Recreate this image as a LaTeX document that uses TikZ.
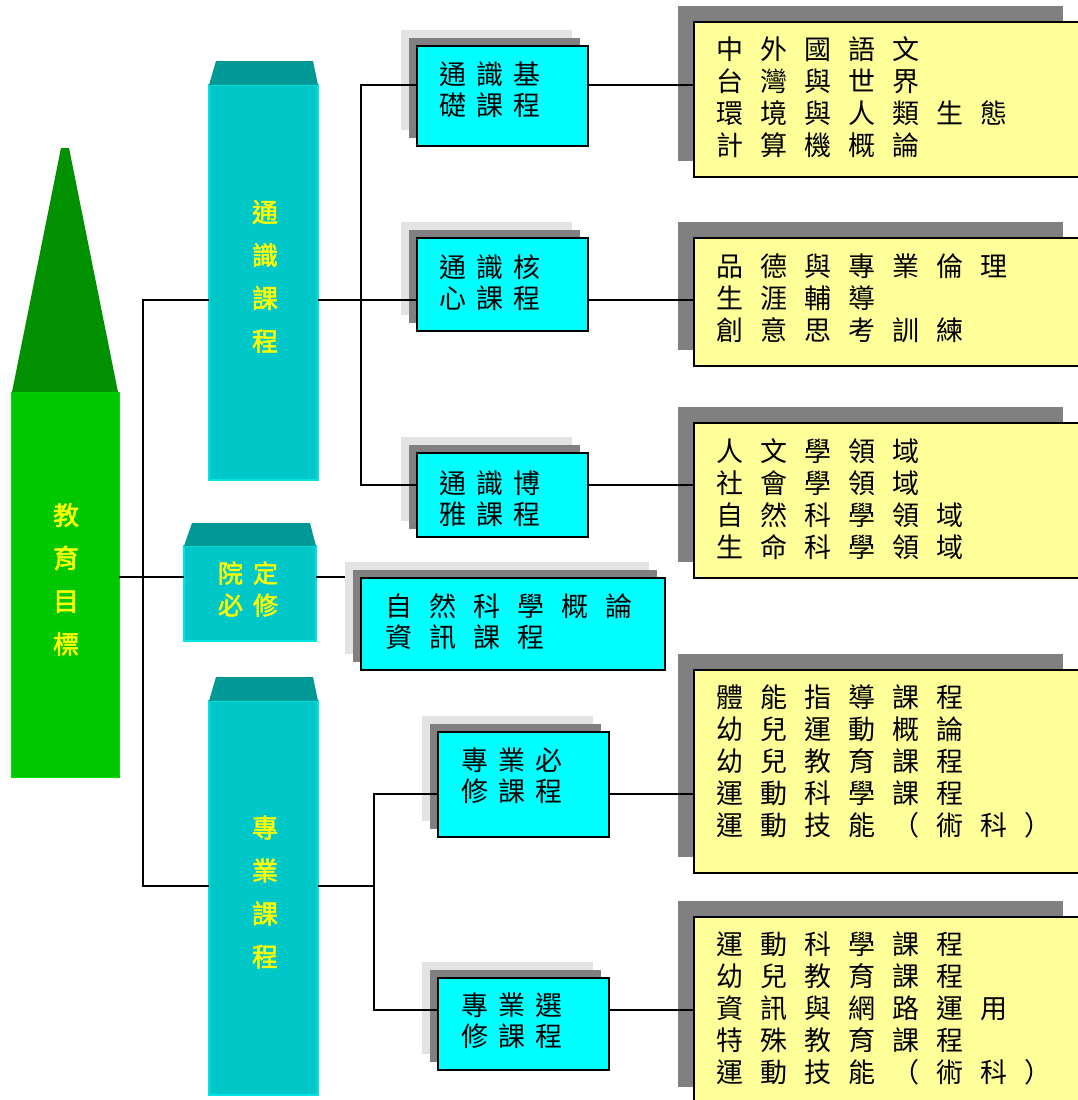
\documentclass[tikz,border=0pt]{standalone}
\usepackage{fontspec}
\newfontfamily\cjk{Noto Sans CJK TC}
\newfontfamily\cjkb[FakeBold=2]{Noto Sans CJK TC}
\usetikzlibrary{backgrounds}
\definecolor{dgreen}{RGB}{0,144,0}
\definecolor{lgreen}{RGB}{0,200,0}
\definecolor{lgreenedge}{RGB}{0,222,0}
\definecolor{tealtop}{RGB}{0,153,150}
\definecolor{tealcol}{RGB}{0,200,200}
\definecolor{tealedge}{RGB}{0,228,228}
\definecolor{cyanbox}{RGB}{0,255,255}
\definecolor{ybox}{RGB}{255,255,153}
\definecolor{shdark}{RGB}{128,128,128}
\definecolor{shlight}{RGB}{227,227,227}
\definecolor{ytext}{RGB}{255,255,0}
\makeatletter
\newcommand\sw[1]{\@tfor\@mych:=#1\do{\@mych\hspace{17pt}}}
\newcommand\sn[1]{\@tfor\@mych:=#1\do{\@mych\hspace{10pt}}}
\makeatother
\newcommand\shbox[3]{\fill[#1] ([shift={(#2,#2)}]#3.south west) rectangle ([shift={(#2,#2)}]#3.north east);}
\begin{document}
\begin{tikzpicture}[x=1pt,y=-1pt,
  conn/.style={line width=1.5pt,draw=black},
  cbox/.style={draw=black,line width=1.6pt,fill=cyanbox,inner sep=0pt,outer sep=0pt},
  ybx/.style={draw=black,line width=1.6pt,fill=ybox,minimum width=385pt,inner sep=0pt,outer sep=0pt},
  col/.style={fill=tealcol,draw=tealedge,line width=1.2pt,inner sep=0pt,outer sep=0pt},
  ytxt/.style={font=\cjk\fontsize{27}{32}\selectfont,align=left,anchor=west,inner sep=0pt},
  ctxt/.style={font=\cjk\fontsize{27}{31}\selectfont,align=left,anchor=west,inner sep=0pt},
  ltxt/.style={text=ytext,font=\cjkb\fontsize{26}{43}\selectfont,align=center,inner sep=0pt}
]
\useasboundingbox (0,0) rectangle (1077,1100);

% goal spire
\node[fill=lgreen,draw=lgreenedge,line width=1pt,inner sep=0pt,outer sep=0pt,minimum width=108pt,minimum height=385pt] (goal) at (65,584.5) {};
\fill[dgreen] (61,148) -- (69,148) -- (118,392) -- (12,392) -- cycle;
\node[ltxt] (goalt) at (66,579.5) {教\\育\\目\\標};

% columns
\node[col,minimum width=109pt,minimum height=395pt] (gen) at (263.5,282.5) {};
\fill[tealtop] (216,61) -- (313,61) -- (318,85) -- (209,85) -- cycle;
\node[ltxt] (gent) at (265,276.5) {通\\識\\課\\程};

\node[col,minimum width=132pt,minimum height=95pt] (yuan) at (250,593.5) {};
\fill[tealtop] (192,523) -- (310,523) -- (316,546) -- (184,546) -- cycle;
\node[ltxt,font=\cjkb\fontsize{25}{32}\selectfont] (yuant) at (248,589) {院\hspace{10pt}定\\必\hspace{10pt}修};

\node[col,minimum width=109pt,minimum height=394pt] (pro) at (263.5,898) {};
\fill[tealtop] (216,677) -- (313,677) -- (318,701) -- (209,701) -- cycle;
\node[ltxt] (prot) at (265,892) {專\\業\\課\\程};

% cyan boxes
\node[cbox,minimum width=171pt,minimum height=100pt] (c1) at (502.5,96) {};
\node[cbox,minimum width=171pt,minimum height=93pt] (c2) at (502.5,284.5) {};
\node[cbox,minimum width=171pt,minimum height=84pt] (c3) at (502.5,495) {};
\node[cbox,minimum width=304pt,minimum height=92pt] (c4) at (513,624) {};
\node[cbox,minimum width=171pt,minimum height=105pt] (c5) at (523.5,784.5) {};
\node[cbox,minimum width=171pt,minimum height=92pt] (c6) at (523.5,1024) {};

\node[ctxt] (c1t) at (439,90) {\sn{通識基}\\\sn{礎課程}};
\node[ctxt] (c2t) at (439,283) {\sn{通識核}\\\sn{心課程}};
\node[ctxt] (c3t) at (439,498.5) {\sn{通識博}\\\sn{雅課程}};
\node[ctxt] (c4t) at (385,621.5) {\sw{自然科學概論}\\\sw{資訊課程}};
\node[ctxt] (c5t) at (461,776) {\sn{專業必}\\\sn{修課程}};
\node[ctxt] (c6t) at (461,1021) {\sn{專業選}\\\sn{修課程}};

% yellow boxes
\node[ybx,minimum height=155pt] (y1) at (886.5,99.5) {};
\node[ybx,minimum height=128pt] (y2) at (886.5,302) {};
\node[ybx,minimum height=155pt] (y3) at (886.5,500.5) {};
\node[ybx,minimum height=203pt] (y4) at (886.5,771.5) {};
\node[ybx,minimum height=186pt] (y5) at (886.5,1010) {};

\node[ytxt] (y1t) at (716,97.5) {\sw{中外國語文}\\\sw{台灣與世界}\\\sw{環境與人類生態}\\\sw{計算機概論}};
\node[ytxt] (y2t) at (716,298) {\sw{品德與專業倫理}\\\sw{生涯輔導}\\\sw{創意思考訓練}};
\node[ytxt] (y3t) at (716,499) {\sw{人文學領域}\\\sw{社會學領域}\\\sw{自然科學領域}\\\sw{生命科學領域}};
\node[ytxt] (y4t) at (716,761.5) {\sw{體能指導課程}\\\sw{幼兒運動概論}\\\sw{幼兒教育課程}\\\sw{運動科學課程}\\\sw{運動技能（術科）}};
\node[ytxt] (y5t) at (716,1008.5) {\sw{運動科學課程}\\\sw{幼兒教育課程}\\\sw{資訊與網路運用}\\\sw{特殊教育課程}\\\sw{運動技能（術科）}};

% shadows
\begin{pgfonlayer}{background}
\foreach \b in {c1,c2,c3,c4,c5,c6}{\shbox{shlight}{-16}{\b}\shbox{shdark}{-8}{\b}}
\foreach \b in {y1,y2,y3,y4,y5}{\shbox{shdark}{-16}{\b}}
\end{pgfonlayer}

% level coordinates
\coordinate (L1) at (0,85);
\coordinate (L2) at (0,300);
\coordinate (L3) at (0,485);
\coordinate (L7) at (0,577);
\coordinate (L5) at (0,794);
\coordinate (L8) at (0,886);
\coordinate (L6) at (0,1010);
\coordinate (b0) at (143,0);
\coordinate (b1) at (361,0);
\coordinate (b2) at (374,0);
\coordinate (c4L) at ([xshift=-16pt]c4.west);

% connectors
\draw[conn] (gen.west |- L2) -| (b0 |- L8) -- (pro.west |- L8);
\draw[conn] (goal.east |- L7) -- (yuan.west |- L7);
\draw[conn] (yuan.east |- L7) -- (c4L |- L7);
\draw[conn] (c1.west |- L1) -| (b1 |- L3) -- (c3.west |- L3);
\draw[conn] (gen.east |- L2) -- (c2.west |- L2);
\draw[conn] (pro.east |- L8) -- (b2 |- L8);
\draw[conn] (c5.west |- L5) -| (b2 |- L6) -- (c6.west |- L6);
\draw[conn] (c1.east |- L1) -- (y1.west |- L1);
\draw[conn] (c2.east |- L2) -- (y2.west |- L2);
\draw[conn] (c3.east |- L3) -- (y3.west |- L3);
\draw[conn] (c5.east |- L5) -- (y4.west |- L5);
\draw[conn] (c6.east |- L6) -- (y5.west |- L6);
\end{tikzpicture}
\end{document}
